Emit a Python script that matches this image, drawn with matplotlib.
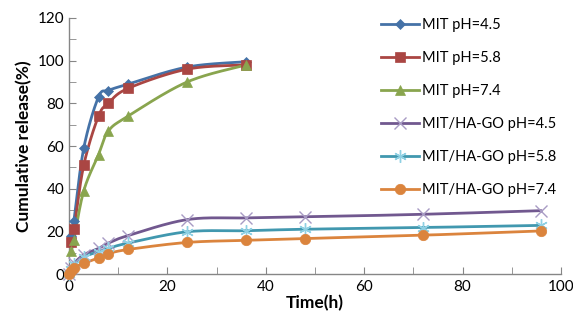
import numpy as np
import matplotlib
matplotlib.use("Agg")
import matplotlib.pyplot as plt
from matplotlib.lines import Line2D
from matplotlib.ticker import MultipleLocator

plt.rcParams['font.family'] = ['Lato', 'DejaVu Sans']

# Data
t_mit = [0.5, 1, 3, 6, 8, 12, 24, 36]
mit_45 = [18, 25, 59, 83, 86, 89, 97, 99.5]
mit_58 = [15, 21, 51, 74, 80, 87, 96, 98]
mit_74 = [11, 16, 39, 56, 67, 74, 90, 98]

t_go = [0, 0.5, 1, 3, 6, 8, 12, 24, 36, 48, 72, 96]
go_45 = [0, 3, 5, 9, 12, 14.5, 18, 25.5, 26.3, 26.8, 28, 29.7]
go_58 = [0, 2.5, 4.5, 8, 10.5, 12, 14.5, 19.8, 20.3, 21, 21.8, 22.8]
go_74 = [0, 1.5, 3, 5, 7.5, 9.5, 11.5, 14.8, 15.8, 16.6, 18.2, 20.2]

labels = ["MIT pH=4.5", "MIT pH=5.8", "MIT pH=7.4",
          "MIT/HA-GO pH=4.5", "MIT/HA-GO pH=5.8", "MIT/HA-GO pH=7.4"]
colors = ["#4572A7", "#AA4643", "#89A54E", "#71588F", "#4198AF", "#DB843D"]
mcolors = ["#4572A7", "#AA4643", "#89A54E", "#A89BC4", "#8FD0E3", "#DB843D"]
markers = ["D", "s", "^", "x", (6, 2, 0), "o"]
msizes = [5, 7.5, 7.5, 8, 9, 7.5]


def smooth(x, y, n=30):
    x = np.asarray(x, float)
    y = np.asarray(y, float)
    pts = np.column_stack([x, y])
    out = []
    for i in range(len(pts) - 1):
        p0 = pts[i - 1] if i > 0 else pts[i]
        p1 = pts[i]
        p2 = pts[i + 1]
        p3 = pts[i + 2] if i + 2 < len(pts) else pts[i + 1]
        c1 = p1 + (p2 - p0) / 6.0
        c2 = p2 - (p3 - p1) / 6.0
        s = np.linspace(0, 1, n)[:, None]
        b = ((1 - s) ** 3) * p1 + 3 * ((1 - s) ** 2) * s * c1 + 3 * (1 - s) * s ** 2 * c2 + s ** 3 * p2
        out.append(b if i == 0 else b[1:])
    arr = np.vstack(out)
    return arr[:, 0], arr[:, 1]


fig = plt.figure(figsize=(5.73, 3.27), dpi=100)
ax = fig.add_axes([0.1204, 0.162, 0.979 - 0.1204, 0.945 - 0.162])

series = [(t_mit, mit_45), (t_mit, mit_58), (t_mit, mit_74),
          (t_go, go_45), (t_go, go_58), (t_go, go_74)]
handles = []
for (tx, vy), lab, c, mc, m, ms in zip(series, labels, colors, mcolors, markers, msizes):
    sx, sy = smooth(tx, vy)
    ax.plot(sx, sy, color=c, lw=2.0, zorder=2, solid_capstyle='round')
    mew = 1.0 if m in ("x", (6, 2, 0)) else 0.5
    ax.plot(tx, vy, linestyle='none', marker=m, color=mc, markersize=ms,
            markeredgecolor=mc, markeredgewidth=mew, zorder=3, clip_on=False)
    handles.append(Line2D([], [], color=c, lw=2.0, marker=m, markersize=ms,
                          markerfacecolor=mc, markeredgecolor=mc, markeredgewidth=mew))

ax.set_xlim(0, 100)
ax.set_ylim(0, 120)
ax.xaxis.set_major_locator(MultipleLocator(20))
ax.xaxis.set_minor_locator(MultipleLocator(10))
ax.yaxis.set_major_locator(MultipleLocator(20))
ax.yaxis.set_minor_locator(MultipleLocator(10))
for sp in ("top", "right"):
    ax.spines[sp].set_visible(False)
for sp in ("left", "bottom"):
    ax.spines[sp].set_color("#868686")
    ax.spines[sp].set_linewidth(1.0)
ax.tick_params(which='both', direction='in', color='#868686', labelsize=11, labelcolor='black')
ax.tick_params(which='major', length=5)
ax.tick_params(which='minor', length=5)
ax.tick_params(axis='x', pad=4)

ax.set_xlabel("Time(h)", fontsize=12.5, fontweight='bold', labelpad=1)
ax.set_ylabel("Cumulative release(%)", fontsize=12.5, fontweight='bold', labelpad=4)

fig.legend(handles, labels, loc='upper left', bbox_to_anchor=(0.655, 0.963),
           frameon=False, fontsize=10.5, handlelength=2.6, handletextpad=0.2,
           labelspacing=1.3, borderaxespad=0)

fig.savefig("out.png", dpi=100)
